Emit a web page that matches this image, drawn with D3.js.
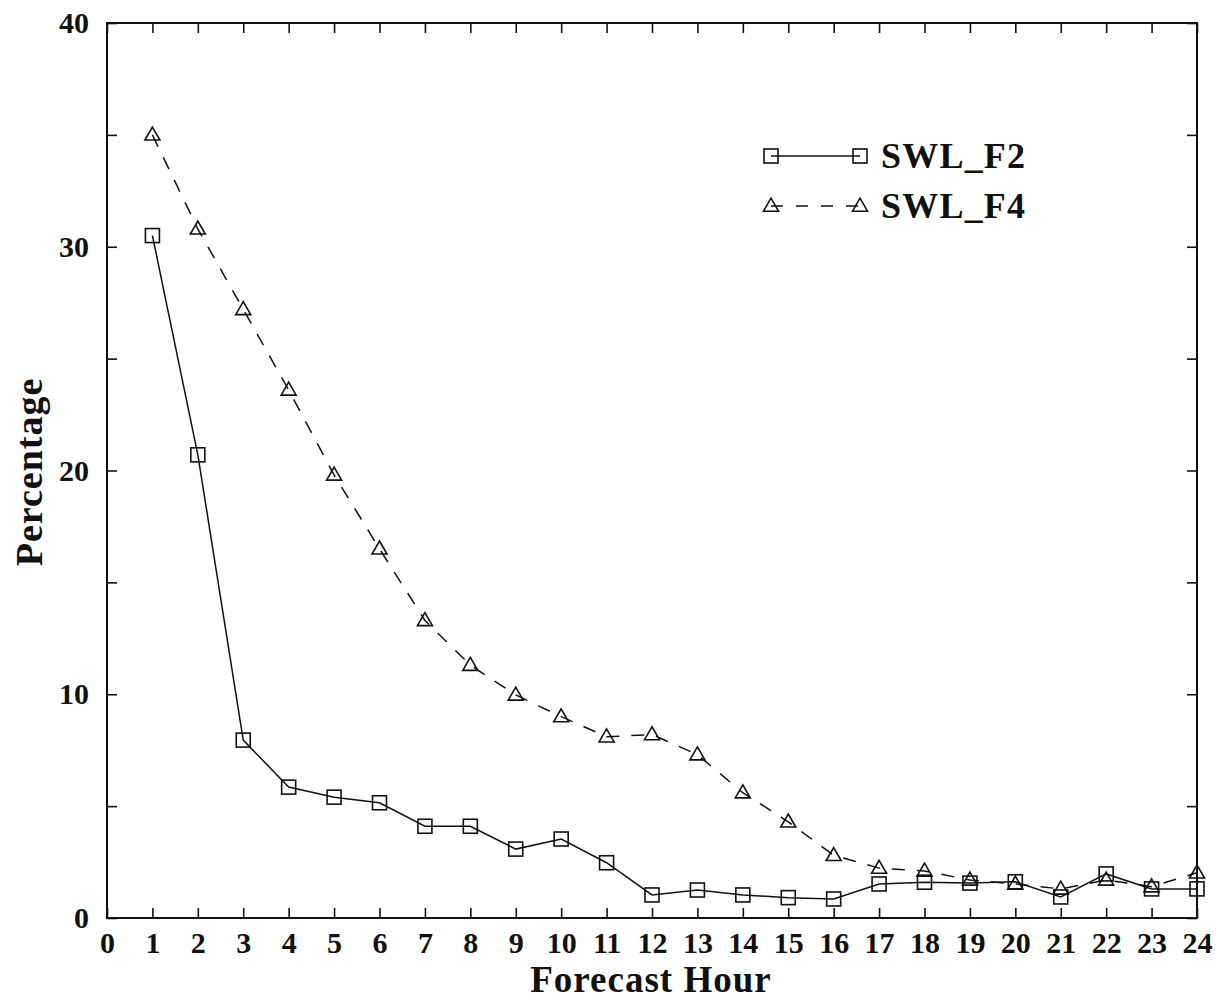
<!DOCTYPE html>
<html>
<head>
<meta charset="utf-8">
<script src="https://cdn.jsdelivr.net/npm/d3@7/dist/d3.min.js"></script>
<style>
  html, body { margin: 0; padding: 0; background: #fff; }
  svg { display: block; }
  text { font-family: "Liberation Serif", "Times New Roman", serif; font-weight: bold; fill: #111; }
</style>
</head>
<body>
<svg id="chart" width="1216" height="999"></svg>
<script>
// Forecast hours and percentages for the two schemes
const hours = d3.range(1, 25);
const swlF2 = [30.5, 20.7, 7.95, 5.85, 5.4, 5.15, 4.1, 4.1, 3.08, 3.53, 2.47, 1.03,
               1.25, 1.03, 0.91, 0.85, 1.52, 1.6, 1.56, 1.62, 0.94, 1.97, 1.3, 1.3];
const swlF4 = [35.0, 30.8, 27.2, 23.6, 19.8, 16.5, 13.3, 11.3, 9.97, 9.0, 8.1, 8.2,
               7.3, 5.6, 4.3, 2.8, 2.23, 2.1, 1.7, 1.52, 1.3, 1.7, 1.4, 2.02];
const xTicks = d3.range(0, 25);
const yLabelTicks = [0, 10, 20, 30, 40];
const yAllTicks = d3.range(0, 41, 5);
const seriesNames = ["SWL_F2", "SWL_F4"];

const svg = d3.select("#chart");
const L = 107, R = 1197, T = 23, B = 918;

const x = d3.scaleLinear().domain([0, 24]).range([L, R]);
const y = d3.scaleLinear().domain([0, 40]).range([B, T]);

const ink = "#111";
const tickLen = 10;

// Frame
svg.append("rect")
  .attr("x", L).attr("y", T).attr("width", R - L).attr("height", B - T)
  .attr("fill", "none").attr("stroke", ink).attr("stroke-width", 2);

// Inward ticks on all four sides
const bottomAxis = d3.axisBottom(x).tickValues(xTicks).tickSize(-tickLen).tickPadding(14).tickFormat(d3.format("d"));
const topAxis = d3.axisTop(x).tickValues(xTicks).tickSize(-tickLen).tickFormat("");
const leftAxis = d3.axisLeft(y).tickValues(yAllTicks).tickSize(-tickLen).tickPadding(18)
  .tickFormat(d => yLabelTicks.includes(d) ? d : "");
const rightAxis = d3.axisRight(y).tickValues(yAllTicks).tickSize(-tickLen).tickFormat("");

function styleAxis(g) {
  g.select(".domain").remove();
  g.selectAll(".tick line").attr("stroke", ink).attr("stroke-width", 1.6);
  g.selectAll(".tick text").attr("font-size", 30).style("font-family", "'Liberation Serif', serif")
    .style("font-weight", "bold").attr("fill", ink);
}

svg.append("g").attr("transform", `translate(0,${B})`).call(bottomAxis).call(styleAxis);
svg.append("g").attr("transform", `translate(0,${T})`).call(topAxis).call(styleAxis);
svg.append("g").attr("transform", `translate(${L},0)`).call(leftAxis).call(styleAxis);
svg.append("g").attr("transform", `translate(${R},0)`).call(rightAxis).call(styleAxis);

// Axis titles
svg.append("text")
  .attr("x", 651).attr("y", 992)
  .attr("text-anchor", "middle").attr("font-size", 37)
  .attr("letter-spacing", 1)
  .text("Forecast Hour");

svg.append("text")
  .attr("transform", `translate(42,472) rotate(-90)`)
  .attr("text-anchor", "middle").attr("font-size", 38)
  .attr("letter-spacing", 1)
  .text("Percentage");

// Series
const line = d3.line().x((d, i) => x(hours[i])).y(d => y(d));

const sq = 14;
const triPath = (cx, cy) => {
  const s = 15, h = s * 0.866;
  return `M${cx},${cy - h * 0.6}L${cx + s / 2},${cy + h * 0.4}L${cx - s / 2},${cy + h * 0.4}Z`;
};

function drawSquare(g, cx, cy) {
  g.append("rect").attr("x", cx - sq / 2).attr("y", cy - sq / 2)
    .attr("width", sq).attr("height", sq)
    .attr("fill", "none").attr("stroke", ink).attr("stroke-width", 1.6);
}
function drawTriangle(g, cx, cy) {
  g.append("path").attr("d", triPath(cx, cy))
    .attr("fill", "none").attr("stroke", ink).attr("stroke-width", 1.6);
}

// SWL_F4: dashed line with triangles
const gF4 = svg.append("g");
gF4.append("path").datum(swlF4).attr("d", line)
  .attr("fill", "none").attr("stroke", ink).attr("stroke-width", 1.5)
  .attr("stroke-dasharray", "13,12");
gF4.selectAll("path.m").data(swlF4).enter().append("path").attr("class", "m")
  .attr("d", (d, i) => triPath(x(hours[i]), y(d)))
  .attr("fill", "none").attr("stroke", ink).attr("stroke-width", 1.6);

// SWL_F2: solid line with squares
const gF2 = svg.append("g");
gF2.append("path").datum(swlF2).attr("d", line)
  .attr("fill", "none").attr("stroke", ink).attr("stroke-width", 1.5);
gF2.selectAll("rect").data(swlF2).enter().append("rect")
  .attr("x", (d, i) => x(hours[i]) - sq / 2).attr("y", d => y(d) - sq / 2)
  .attr("width", sq).attr("height", sq)
  .attr("fill", "none").attr("stroke", ink).attr("stroke-width", 1.6);

// Legend
const leg = svg.append("g");
const lx0 = 771, lx1 = 860;
const ly = [156, 206];
leg.append("line").attr("x1", lx0).attr("x2", lx1).attr("y1", ly[0]).attr("y2", ly[0])
  .attr("stroke", ink).attr("stroke-width", 1.5);
drawSquare(leg, lx0, ly[0]);
drawSquare(leg, lx1, ly[0]);
leg.append("line").attr("x1", lx0).attr("x2", lx1).attr("y1", ly[1]).attr("y2", ly[1])
  .attr("stroke", ink).attr("stroke-width", 1.5).attr("stroke-dasharray", "12,13");
drawTriangle(leg, lx0, ly[1]);
drawTriangle(leg, lx1, ly[1]);
seriesNames.forEach((name, i) => {
  leg.append("text").attr("x", 881).attr("y", ly[i] + 12)
    .attr("font-size", 36).attr("letter-spacing", 1.2).text(name);
});
</script>
</body>
</html>
